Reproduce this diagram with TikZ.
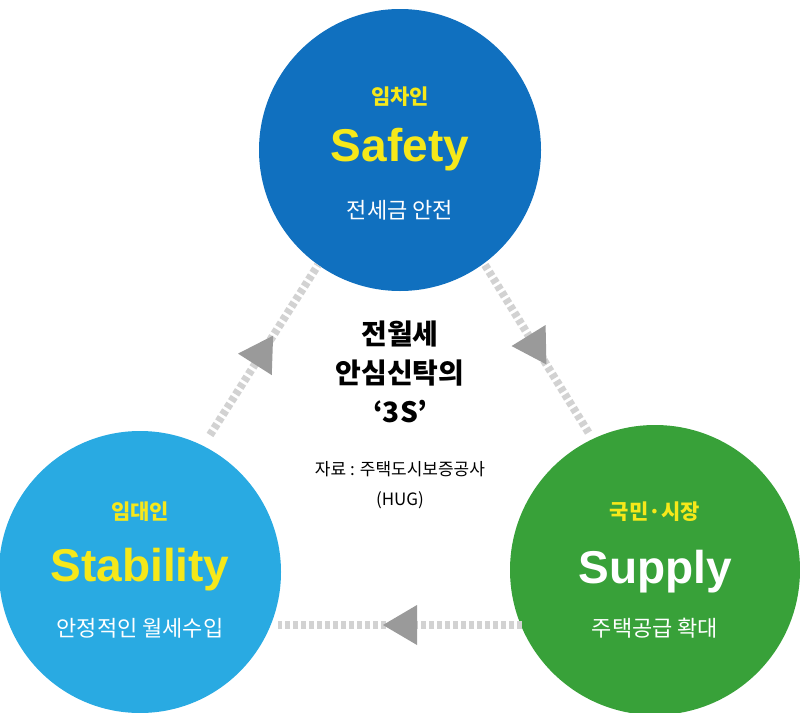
\documentclass[tikz,border=0pt]{standalone}
\usepackage{fontspec}
\newfontfamily\kr{Noto Sans CJK KR}
\newfontfamily\lat{Liberation Sans}
\usetikzlibrary{arrows.meta,decorations.markings}
\definecolor{cTop}{HTML}{1070BF}
\definecolor{cLeft}{HTML}{29AAE2}
\definecolor{cRight}{HTML}{38A139}
\definecolor{cYel}{HTML}{F6E81A}
\definecolor{cDash}{HTML}{D2D2D2}
\definecolor{cArr}{HTML}{9A9A9A}
\begin{document}
\begin{tikzpicture}[x=1pt,y=-1pt,
  circ/.style={circle,draw=none,minimum size=#1,inner sep=0},
  conn/.style={draw=cDash,line width=8pt,dash pattern=on 5pt off 3pt,
    postaction={decorate},decoration={markings,mark=at position 0.5 with {\fill[cArr] (17,0)--(-17,-20)--(-17,20)--cycle;}}},
  yel/.style={text=cYel,font=\kr\bfseries\fontsize{21}{24}\selectfont},
  big/.style={text=cYel,font=\lat\bfseries\fontsize{46}{50}\selectfont},
  wht/.style={text=white,font=\kr\fontsize{22}{25}\selectfont}]
\useasboundingbox (0,0) rectangle (800,712);
\node[circ=282pt,fill=cTop] (top) at (400,150) {};
\node[circ=282pt,fill=cLeft] (left) at (140,572) {};
\node[circ=290pt,fill=cRight] (right) at (655,570) {};
\coordinate (a1) at (210,435); \coordinate (a2) at (318,265);
\coordinate (b1) at (485,265); \coordinate (b2) at (590,435);
\coordinate (c1) at (522,625); \coordinate (c2) at (278,625);
\draw[conn] (a1) -- (a2);
\draw[conn] (b1) -- (b2);
\draw[conn] (c1) -- (c2);
\node[yel] (t1) at (400,97) {임차인};
\node[big] (t2) at (400,150) {Safety};
\node[wht] (t3) at (400,210) {전세금 안전};
\node[yel] (l1) at (140,512) {임대인};
\node[big] (l2) at (140,570) {Stability};
\node[wht] (l3) at (140,628) {안정적인 월세수입};
\node[yel] (r1) at (655,512) {국민·시장};
\node[big,text=white] (r2) at (655,572) {Supply};
\node[wht] (r3) at (655,628) {주택공급 확대};
\node[font=\kr\bfseries\fontsize{28}{39}\selectfont,align=center,text=black] (ctr) at (400,372) {전월세\\안심신탁의\\‘3S’};
\node[font=\kr\fontsize{17}{30}\selectfont,align=center,text=black] (src) at (400,485) {자료 : 주택도시보증공사\\(HUG)};
\end{tikzpicture}
\end{document}
